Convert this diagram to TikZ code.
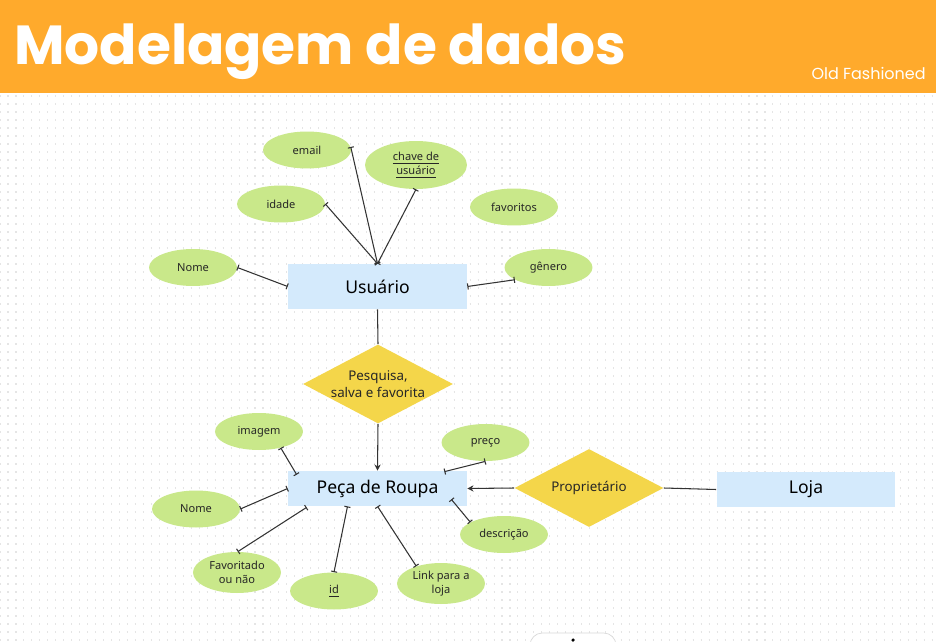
\documentclass[tikz,border=0pt]{standalone}
\usepackage{fontspec}
\setmainfont{Noto Sans}
\newfontfamily\topofont{Poppins}
\usepackage{xcolor}
\usetikzlibrary{arrows.meta, calc, shapes.geometric}

\definecolor{laranja}{HTML}{FFAA2C}
\definecolor{verde}{HTML}{C9E88A}
\definecolor{azul}{HTML}{D4EAFC}
\definecolor{amarelo}{HTML}{F4D64A}
\definecolor{linha}{HTML}{333333}

\begin{document}
\begin{tikzpicture}[
    x=0.02cm, y=-0.02cm,
    font=\fontsize{6.3}{7.6}\selectfont,
    atributo/.style={ellipse, fill=verde, inner sep=0pt, minimum width=1.76cm,
                     minimum height=0.74cm, align=center, text=black!85},
    entidade/.style={rectangle, fill=azul, inner sep=0pt, minimum width=3.58cm,
                     minimum height=0.7cm, font=\fontsize{10}{12}\selectfont},
    relacao/.style={diamond, fill=amarelo, inner sep=0pt, shape aspect=1.9,
                    minimum width=3cm, minimum height=1.58cm, align=center,
                    text=black!85, font=\fontsize{7.6}{9.6}\selectfont},
    liga/.style={{Bar[width=3.5pt]}-{Bar[width=3.5pt]}, linha, line width=0.6pt},
    seta/.style={-{Stealth[length=3.5pt, width=3.5pt]}, linha, line width=0.6pt},
    traco/.style={linha, line width=0.6pt},
    pontos/.style={black!10, line width=0.62pt, dash pattern=on 0.62pt off 3.915pt}
  ]
    \clip (0,0) rectangle (936,642);
    \fill[white] (0,0) rectangle (936,642);
    % fundo pontilhado
    \foreach \y in {96,104,...,640}
      \draw[pontos] (-0.5,\y) -- (936,\y);

    % faixa do titulo
    \fill[laranja] (0,0) rectangle (936,93);
    \node[anchor=base west, inner sep=0pt, text=white,
      font=\topofont\bfseries\fontsize{31.3}{35}\selectfont] (titulo) at (14,65)
      {Modelagem de dados};
    \node[anchor=base east, inner sep=0pt, text=white,
      font=\topofont\fontsize{9.1}{10}\selectfont] (marca) at (926,80)
      {Old Fashioned};

    % entidades e relacoes
    \node[entidade, minimum height=0.9cm] (usr) at (377.5,286.5) {Usuário};
    \node[relacao] (pesq) at (378,384) {Pesquisa,\\salva e favorita};
    \node[entidade] (peca) at (377.5,488.5) {Peça de Roupa};
    \node[relacao, minimum width=2.98cm, minimum height=1.56cm] (prop) at (589,488)
      {Proprietário};
    \node[entidade] (loja) at (806,489.5) {Loja};

    % atributos do usuario
    \node[atributo] (email) at (307,150) {email};
    \node[atributo, minimum width=2.04cm, minimum height=0.96cm,
      font=\fontsize{6.3}{7.9}\selectfont] (chave) at (416,165)
      {\underline{chave de}\\\underline{usuário}};
    \node[atributo] (idade) at (281,204) {idade};
    \node[atributo] (favs) at (514,207) {favoritos};
    \node[atributo] (nome) at (193,267.5) {Nome};
    \node[atributo] (gen) at (548.5,267.5) {gênero};

    % atributos da peca
    \node[atributo] (img) at (259,431.5) {imagem};
    \node[atributo] (preco) at (485.5,442.5) {preço};
    \node[atributo] (nome2) at (196,509) {Nome};
    \node[atributo] (desc) at (504,534.5) {descrição};
    \node[atributo, minimum height=0.82cm] (fav) at (237,572.5)
      {Favoritado\\ou não};
    \node[atributo] (id) at (334,591) {\underline{id}};
    \node[atributo, minimum height=0.82cm] (link) at (441,583.5)
      {Link para a\\loja};

    % ligacoes
    \draw[liga] (usr.north) -- (email.4);
    \draw[liga] (usr.north) -- (chave.south);
    \draw[liga] (usr.north) -- (idade.east);
    \draw[liga] (usr.west) -- (nome.east);
    \draw[liga] (usr.east) -- (gen.200);
    \draw[traco] (usr.south) -- (pesq.north);
    \draw[seta] (pesq.south) -- (peca.north);
    \draw[seta] (prop.west) -- (peca.east);
    \draw[traco] (prop.east) -- (loja.west);

    \draw[liga] ($(peca.north west)+(9,4)$) -- (img.-37);
    \draw[liga] (peca.west) -- (nome2.east);
    \draw[liga] ($(peca.south west)+(19,1)$) -- (fav.88);
    \draw[liga] ($(peca.south)+(-30,0)$) -- (id.north);
    \draw[liga] (peca.south) -- (link.145);
    \draw[liga] ($(peca.north east)+(-23,1)$) -- (preco.south);
    \draw[liga] ($(peca.south east)+(-16,-7)$) -- (desc.160);

    % barra de ferramentas cortada
    \draw[black!15, fill=white, rounded corners=7] (530,660) rectangle (616,633);
    \fill[black] (573,640) circle[radius=1pt];
\end{tikzpicture}
\end{document}
